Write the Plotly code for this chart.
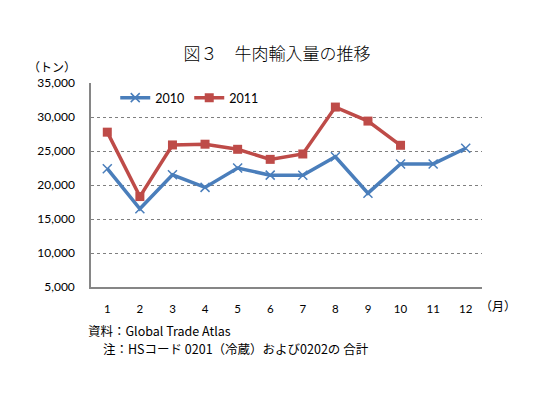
import plotly.graph_objects as go

months = list(range(1, 13))
month_labels = [str(m) for m in months]
imports_2010 = [22400, 16500, 21500, 19650, 22500, 21450, 21420, 24150, 18800, 23100, 23100, 25400]
imports_2011 = [27770, 18300, 25890, 26000, 25250, 23770, 24560, 31460, 29400, 25840]
y_ticks = [5000, 10000, 15000, 20000, 25000, 30000, 35000]
y_tick_labels = ["5,000", "10,000", "15,000", "20,000", "25,000", "30,000", "35,000"]

BLUE = "#4a7ebb"
RED = "#be4b48"
CJK = "Noto Sans CJK JP"
LAT = "Lato"

# page body has an 8px default margin; figure coordinates = viewport - 8
W, H = 549, 390
L, T, R, B = 83, 75, 75, 111
PH = H - T - B  # plot height

fig = go.Figure()
fig.add_trace(go.Scatter(
    x=months, y=imports_2010, name="2010", mode="lines+markers",
    line=dict(color=BLUE, width=3.5),
    marker=dict(symbol="x-thin", size=9, line=dict(color=BLUE, width=1.5), color=BLUE),
))
fig.add_trace(go.Scatter(
    x=months[:len(imports_2011)], y=imports_2011, name="2011", mode="lines+markers",
    line=dict(color=RED, width=3.5),
    marker=dict(symbol="square", size=9, color=RED),
))

fig.update_layout(
    width=W, height=H,
    margin=dict(l=L, r=R, t=T, b=B),
    paper_bgcolor="white", plot_bgcolor="white",
    title=dict(text="図３　牛肉輸入量の推移", x=269 / W, xanchor="center", y=1 - 46 / H, yanchor="middle",
               font=dict(family=CJK, size=17, color="black", weight=300)),
    legend=dict(orientation="h", x=0.062, xanchor="left", y=1 - (98 - 83) / PH, yanchor="middle",
                font=dict(family=LAT, size=12.5, color="black"), bgcolor="rgba(0,0,0,0)",
                itemwidth=30, tracegroupgap=0),
    showlegend=True,
)
fig.update_xaxes(
    range=[0.5, 12.5], tickmode="array", tickvals=months, ticktext=month_labels,
    showgrid=False, zeroline=False, showline=True, linecolor="#868686", linewidth=1.5,
    ticks="", tickfont=dict(family=LAT, size=11.5, color="black"), ticklabelstandoff=10,
)
fig.update_yaxes(
    range=[5000, 35000], tickmode="array", tickvals=y_ticks, ticktext=y_tick_labels,
    showgrid=True, gridcolor="#7f7f7f", griddash="dot", gridwidth=1,
    zeroline=False, showline=True, linecolor="#868686", linewidth=1.5,
    ticks="", tickfont=dict(family=LAT, size=12, color="black"), ticklabelstandoff=12,
)

fig.add_annotation(text="（トン）", xref="paper", yref="paper",
                   x=(78 - 91) / 391, y=1 + (83 - 66) / PH, xanchor="right", yanchor="middle",
                   showarrow=False, font=dict(family=CJK, size=12, color="black"))
fig.add_annotation(text="（月）", xref="paper", yref="paper",
                   x=(478 - 91) / 391, y=-(305 - 287) / PH, xanchor="left", yanchor="middle",
                   showarrow=False, font=dict(family=CJK, size=12, color="black"))
fig.add_annotation(text="資料：Global Trade Atlas", xref="paper", yref="paper",
                   x=(86 - 91) / 391, y=-(330 - 287) / PH, xanchor="left", yanchor="middle",
                   showarrow=False, font=dict(family=CJK, size=12.5, color="black"))
fig.add_annotation(text="注：HSコード 0201（冷蔵）および0202の 合計", xref="paper", yref="paper",
                   x=(101 - 91) / 391, y=-(348 - 287) / PH, xanchor="left", yanchor="middle",
                   showarrow=False, font=dict(family=CJK, size=12.5, color="black"))

fig.write_html("out.html")
